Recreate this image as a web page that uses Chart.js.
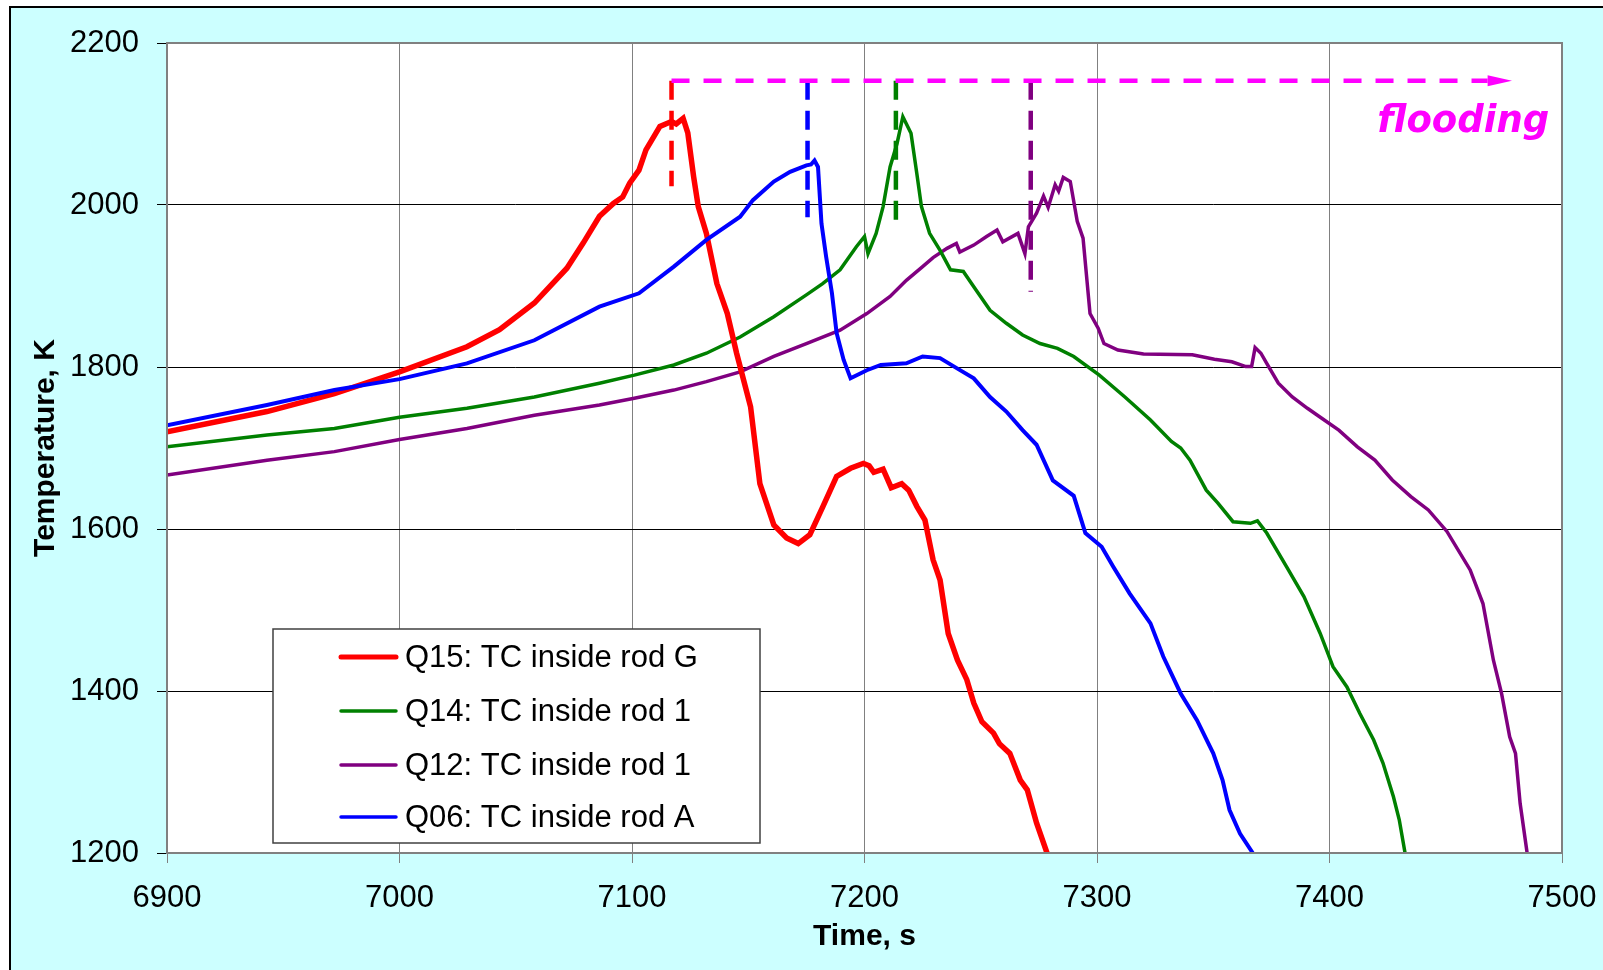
<!DOCTYPE html>
<html>
<head>
<meta charset="utf-8">
<title>Temperature, K vs Time, s</title>
<script src="https://cdn.jsdelivr.net/npm/chart.js@4.4.1/dist/chart.umd.min.js"></script>
<style>
  html, body { margin: 0; padding: 0; background: #fff; }
  canvas { display: block; }
</style>
</head>
<body>
<canvas id="chart" width="1603" height="970"></canvas>
<script>
// Series: time (s) and temperature (K)
const q15Time = [6900, 6943, 6972, 7000, 7029, 7043, 7058, 7072, 7079, 7086, 7092, 7096, 7099, 7103, 7106, 7112, 7117, 7119, 7122, 7124, 7126.5, 7128.5, 7132, 7136.5, 7141, 7145, 7151, 7155, 7161, 7166.5, 7171.5, 7176.5, 7182, 7188, 7194, 7199.5, 7202, 7204, 7208, 7211.5, 7216, 7219, 7222.5, 7226, 7229.5, 7232.5, 7236, 7240, 7244, 7247, 7250.5, 7255.5, 7258, 7262.5, 7267, 7270, 7274, 7278.5];
const q15Temp = [1720, 1745, 1767, 1794, 1825, 1846, 1879, 1922, 1953, 1986, 2002, 2010, 2027, 2043, 2068, 2097, 2103, 2100, 2107, 2089, 2035, 1998, 1965, 1903, 1866, 1817, 1751, 1656, 1605, 1589, 1582, 1593, 1627, 1665, 1675, 1681, 1678, 1670, 1674, 1651, 1656, 1648, 1628, 1611, 1562, 1537, 1471, 1438, 1414, 1385, 1362, 1348, 1335, 1323, 1290, 1278, 1237, 1200];

const q14Time = [6900, 6943, 6972, 7000, 7029, 7058, 7086, 7101, 7118, 7132, 7146.5, 7161, 7175, 7182, 7189.5, 7196.5, 7200, 7201.5, 7205, 7208, 7211, 7214, 7216.5, 7220, 7222.5, 7224.5, 7228, 7232.5, 7237, 7242.5, 7247, 7254, 7261, 7268, 7275.5, 7283, 7290, 7301, 7312, 7323, 7332, 7336, 7340, 7347, 7352, 7358.5, 7366, 7369, 7373, 7381.5, 7389, 7396, 7401.5, 7407.5, 7413, 7419, 7423, 7427.5, 7430, 7432.5];
const q14Temp = [1701.5, 1716, 1724, 1738, 1749, 1763, 1780, 1790, 1802.5, 1817, 1837, 1862, 1889, 1903, 1920, 1948.5, 1961, 1940, 1965, 1998, 2047, 2076, 2109, 2088.5, 2039, 1998, 1965, 1944, 1920, 1918, 1899, 1870, 1854, 1839.5, 1829, 1823, 1813, 1790, 1763, 1734.5, 1708, 1700, 1685, 1648, 1632, 1609, 1607, 1610, 1595, 1553.5, 1516.5, 1471, 1430, 1405, 1372.5, 1339.5, 1311, 1269.5, 1241, 1200];

const q12Time = [6900, 6943, 6972, 7000, 7029, 7058, 7086, 7101, 7118, 7132, 7146.5, 7161, 7175, 7189.5, 7201, 7211, 7218, 7225, 7229.5, 7235.5, 7239.5, 7241, 7247, 7252.5, 7257, 7259.5, 7266, 7269, 7270.5, 7274, 7277, 7279, 7282, 7283.5, 7285.5, 7288.5, 7291.5, 7294, 7297, 7300.5, 7303, 7309, 7320, 7341, 7350.5, 7358, 7364, 7366.5, 7368, 7370.5, 7373, 7378, 7384, 7390.5, 7396.5, 7404, 7412, 7419.5, 7427, 7435, 7442.5, 7450.5, 7460.5, 7466, 7470.5, 7474, 7477.5, 7480, 7482, 7485];
const q12Temp = [1666.5, 1685, 1695.5, 1710.5, 1724, 1740.5, 1753, 1761.5, 1771.5, 1782, 1794, 1813, 1829, 1845.5, 1866, 1887, 1907, 1924, 1935, 1946.5, 1952.5, 1942, 1950.5, 1961, 1969, 1954.5, 1965, 1940, 1973, 1990, 2011, 1997, 2025, 2017, 2034, 2029, 1980, 1959, 1866, 1848, 1829, 1821, 1816, 1815, 1809.5, 1806.5, 1800.5, 1800.5, 1824, 1817, 1804.5, 1780, 1763, 1749, 1737, 1722, 1701.5, 1685, 1660.5, 1640, 1623.5, 1597, 1549.5, 1508, 1438, 1397, 1343.5, 1323, 1261, 1200];

const q06Time = [6900, 6943, 6972, 7000, 7029, 7058, 7086, 7103, 7118, 7132, 7146.5, 7152, 7161, 7168, 7175, 7177, 7178.5, 7180, 7181.5, 7183.5, 7186, 7188, 7191, 7194, 7201, 7207, 7218, 7225, 7232.5, 7240, 7247, 7254, 7261, 7268, 7274, 7281, 7290, 7295, 7302, 7307, 7314, 7323, 7328.5, 7336, 7343, 7350, 7354, 7357, 7361.5, 7367];
const q06Temp = [1728, 1753, 1771.5, 1785, 1804.5, 1833, 1874.5, 1891, 1924, 1957, 1985.5, 2006, 2029, 2041, 2049, 2050, 2055, 2047, 1977, 1936, 1891, 1842, 1809, 1786, 1796, 1802.5, 1804.5, 1813, 1811, 1798, 1786, 1763, 1745, 1722, 1704, 1660, 1641, 1595, 1578, 1553.5, 1520.5, 1483.5, 1442.5, 1397, 1364, 1323, 1290, 1253, 1224, 1200];

const seriesNames = ['Q15: TC inside rod G', 'Q14: TC inside rod 1', 'Q12: TC inside rod 1', 'Q06: TC inside rod A'];

// flooding markers: start time of each flood marker and the lower end of its dashed line
const floodTimes = [7117, 7175.5, 7213.5, 7271.5];
const floodLowTemp = [2023, 1985, 1971, 1893];
const floodLevel = 2153.5;
const floodArrowStart = 7468;
const floodArrowTip = 7478.5;

const timeTicks = [6900, 7000, 7100, 7200, 7300, 7400, 7500];
const tempTicks = [1200, 1400, 1600, 1800, 2000, 2200];

const RED = '#ff0000', GREEN = '#008000', PURPLE = '#800080', BLUE = '#0000ff', MAGENTA = '#ff00ff';
const FONT = '"Liberation Sans", Arial, sans-serif';

function pairs(xs, ys) {
  return xs.map((x, i) => ({ x: x, y: ys[i] }));
}

const curves = [
  { label: seriesNames[0], data: pairs(q15Time, q15Temp), borderColor: RED, borderWidth: 5.5, order: 1 },
  { label: seriesNames[1], data: pairs(q14Time, q14Temp), borderColor: GREEN, borderWidth: 3.5, order: 2 },
  { label: seriesNames[2], data: pairs(q12Time, q12Temp), borderColor: PURPLE, borderWidth: 3.5, order: 3 },
  { label: seriesNames[3], data: pairs(q06Time, q06Temp), borderColor: BLUE, borderWidth: 4, order: 0 }
];
const markerColors = [RED, BLUE, GREEN, PURPLE];

const markers = floodTimes.map((t, i) => ({
  label: 'flood' + i,
  data: [{ x: t, y: floodLevel }, { x: t, y: floodLowTemp[i] }],
  borderColor: markerColors[i],
  borderWidth: 4.5,
  borderDash: [19, 11],
  order: -1
}));
markers.push({
  label: 'floodLine',
  data: [{ x: floodTimes[0], y: floodLevel }, { x: floodArrowStart, y: floodLevel }],
  borderColor: MAGENTA,
  borderWidth: 4.5,
  borderDash: [18, 14],
  order: -2
});

const decor = {
  id: 'decor',
  beforeDraw(chart) {
    const { ctx, chartArea: a } = chart;
    ctx.save();
    ctx.fillStyle = '#ffffff';
    ctx.fillRect(0, 0, chart.width, chart.height);
    ctx.fillStyle = '#ccffff';
    ctx.fillRect(10, 7, chart.width - 10, chart.height - 7);
    ctx.strokeStyle = '#000';
    ctx.lineWidth = 2;
    ctx.beginPath();
    ctx.moveTo(10, chart.height);
    ctx.lineTo(10, 7);
    ctx.lineTo(chart.width, 7);
    ctx.stroke();
    ctx.fillStyle = '#ffffff';
    ctx.fillRect(a.left, a.top, a.right - a.left, a.bottom - a.top);
    ctx.restore();
  },
  afterDatasetsDraw(chart) {
    const { ctx, chartArea: a, scales } = chart;
    const x = scales.x, y = scales.y;
    ctx.save();
    // plot frame
    ctx.strokeStyle = '#808080';
    ctx.lineWidth = 2;
    ctx.strokeRect(a.left, a.top, a.right - a.left, a.bottom - a.top);
    // arrow head of the flooding line
    const yf = y.getPixelForValue(floodLevel);
    const x0 = x.getPixelForValue(floodArrowStart);
    const x1 = x.getPixelForValue(floodArrowTip);
    ctx.fillStyle = MAGENTA;
    ctx.beginPath();
    ctx.moveTo(x0, yf - 5.5);
    ctx.lineTo(x1, yf);
    ctx.lineTo(x0, yf + 5.5);
    ctx.closePath();
    ctx.fill();
    // label
    ctx.font = 'italic bold 37px "DejaVu Sans", Verdana, sans-serif';
    ctx.textAlign = 'right';
    ctx.textBaseline = 'alphabetic';
    ctx.fillText('flooding', x.getPixelForValue(7494.5), y.getPixelForValue(2090.5));
    ctx.restore();
  },
  afterDraw(chart) {
    // legend box
    const ctx = chart.ctx;
    const box = { left: 273, top: 629, right: 760, bottom: 843 };
    ctx.save();
    ctx.fillStyle = '#ffffff';
    ctx.fillRect(box.left, box.top, box.right - box.left, box.bottom - box.top);
    ctx.strokeStyle = '#404040';
    ctx.lineWidth = 1.5;
    ctx.strokeRect(box.left, box.top, box.right - box.left, box.bottom - box.top);
    const rows = [657, 711, 765, 817];
    ctx.font = '31px ' + FONT;
    ctx.textBaseline = 'middle';
    ctx.textAlign = 'left';
    curves.forEach((c, i) => {
      ctx.strokeStyle = c.borderColor;
      ctx.lineWidth = i === 0 ? 5 : 3.5;
      ctx.lineCap = 'round';
      ctx.beginPath();
      ctx.moveTo(341, rows[i]);
      ctx.lineTo(396, rows[i]);
      ctx.stroke();
      ctx.fillStyle = '#000';
      ctx.fillText(c.label, 405, rows[i] + 1);
    });
    ctx.restore();
  }
};

const ctx = document.getElementById('chart').getContext('2d');
new Chart(ctx, {
  type: 'line',
  data: { datasets: curves.concat(markers) },
  options: {
    responsive: false,
    animation: false,
    devicePixelRatio: 1,
    layout: { padding: { top: 43, right: 41, left: 0, bottom: 0 } },
    elements: {
      point: { radius: 0, hoverRadius: 0 },
      line: { tension: 0, fill: false }
    },
    plugins: {
      legend: { display: false },
      tooltip: { enabled: false }
    },
    scales: {
      x: {
        type: 'linear',
        min: 6900,
        max: 7500,
        afterBuildTicks: s => { s.ticks = timeTicks.map(v => ({ value: v })); },
        afterFit: s => { s.height = 117; s.paddingLeft = 0; s.paddingRight = 0; },
        grid: { color: '#808080', lineWidth: 1, tickLength: 10 },
        border: { display: false },
        ticks: {
          color: '#000',
          font: { family: FONT, size: 31 },
          padding: 17,
          maxRotation: 0,
          autoSkip: false,
          callback: v => String(v)
        },
        title: {
          display: true,
          text: 'Time, s',
          color: '#000',
          font: { family: FONT, size: 30, weight: 'bold' },
          padding: { top: 0, bottom: 15 }
        }
      },
      y: {
        type: 'linear',
        min: 1200,
        max: 2200,
        afterBuildTicks: s => { s.ticks = tempTicks.map(v => ({ value: v })); },
        afterFit: s => { s.width = 167; s.paddingTop = 0; s.paddingBottom = 0; },
        grid: { color: '#000000', lineWidth: 1, tickLength: 10 },
        border: { display: false },
        ticks: {
          color: '#000',
          font: { family: FONT, size: 31 },
          padding: 18,
          callback: v => String(v)
        },
        title: {
          display: true,
          text: 'Temperature, K',
          color: '#000',
          font: { family: FONT, size: 30, weight: 'bold' },
          padding: { top: 28, bottom: 0 }
        }
      }
    }
  },
  plugins: [decor]
});
</script>
</body>
</html>
